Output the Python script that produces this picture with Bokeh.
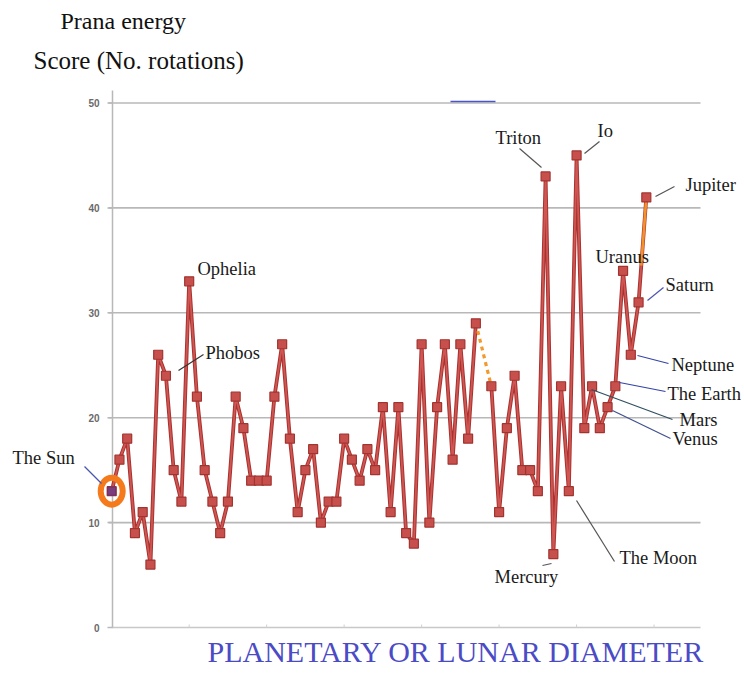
from bokeh.plotting import figure
from bokeh.models import Range1d, Label, ColumnDataSource
from bokeh.core.properties import value
from bokeh.embed import file_html
from bokeh.resources import INLINE

# ---------------- data ----------------
slots = list(range(70))
scores = [13, 16, 18, 9, 11, 6, 26, 24, 15, 12, 33, 22, 15, 12, 9, 12, 22, 19, 14, 14,
          14, 22, 27, 18, 11, 15, 17, 10, 12, 12, 18, 16, 14, 17, 15, 21, 11, 21, 9, 8,
          27, 10, 21, 27, 16, 27, 18, 29, float("nan"), 23, 11, 19, 24, 15, 15, 13, 43, 7, 23, 13,
          45, 19, 23, 19, 21, 23, 34, 26, 31, 41]
y_ticks = [0, 10, 20, 30, 40, 50]
y_tick_labels = ["0", "10", "20", "30", "40", "50"]
grid_levels = [10, 20, 30, 40, 50]
x_ticks = [10, 20, 30, 40, 50, 60, 70]
sun_index = 0
gap_from, gap_to = 47, 49          # dashed bridge over the missing slot
orange_from, orange_to = 68, 69    # Saturn -> Jupiter segment

# -------------- layout helpers --------------
W, H = 742, 671
PXU = 7.748          # px per slot
PYU = 10.49          # px per score unit
X_ORIGIN_PX = 111.2
Y_ORIGIN_PX = 627.0
X0 = -X_ORIGIN_PX / PXU
X1 = X0 + W / PXU
Y1 = Y_ORIGIN_PX / PYU
Y0 = Y1 - H / PYU

def px2x(px):
    return X0 + px / PXU

def py2y(py):
    return Y1 - py / PYU

p = figure(width=W, height=H, output_backend="svg", toolbar_location=None,
           x_range=Range1d(X0, X1), y_range=Range1d(Y0, Y1),
           x_axis_location=None, y_axis_location=None,
           min_border=0, min_border_left=0, min_border_right=0,
           min_border_top=0, min_border_bottom=0)
p.outline_line_color = None
p.background_fill_color = "white"
p.border_fill_color = "white"
p.xgrid.visible = False
p.ygrid.visible = False

# grid lines
gx0 = px2x(108)
p.segment(x0=[gx0] * len(grid_levels), y0=grid_levels, x1=[px2x(700)] * len(grid_levels), y1=grid_levels,
          line_color="#b8b8b8", line_width=1.6)
# axes lines, ticks and tick labels
p.segment(x0=[0], y0=[0], x1=[px2x(700)], y1=[0], line_color="#c8c8c8", line_width=1.5)
p.segment(x0=[px2x(112)], y0=[0], x1=[px2x(112)], y1=[py2y(90)], line_color="#b8b8b8", line_width=1.5)
p.segment(x0=[px2x(107)] * len(y_ticks), y0=y_ticks, x1=[px2x(112)] * len(y_ticks), y1=y_ticks,
          line_color="#b8b8b8", line_width=1.5)
p.segment(x0=x_ticks, y0=[0] * len(x_ticks), x1=x_ticks, y1=[py2y(624)] * len(x_ticks),
          line_color="#d0d0d0", line_width=1)
p.text(x=[px2x(99)] * len(y_ticks), y=y_ticks, text=y_tick_labels,
       text_font=value("Liberation Sans"), text_font_style="bold", text_font_size="10px",
       text_color="#6a6a6a", text_align="right", text_baseline="middle")

# little blue stroke at the top
p.segment(x0=[px2x(450)], y0=[py2y(101)], x1=[px2x(495)], y1=[py2y(101)],
          line_color="#4a55cc", line_width=1.5)

src = ColumnDataSource(dict(x=slots, y=scores))
p.line("x", "y", source=src, line_color="#a8322f", line_width=3.8)
p.line("x", "y", source=src, line_color="#cf5652", line_width=1.8)

# orange dashed bridge and orange last segment
p.line([slots[gap_from], slots[gap_to]], [scores[gap_from], scores[gap_to]],
       line_color="#f39a2e", line_width=3.2, line_dash="4 4")
p.line([slots[orange_from] + 0.35 * (slots[orange_to] - slots[orange_from]), slots[orange_to]],
       [scores[orange_from] + 0.35 * (scores[orange_to] - scores[orange_from]), scores[orange_to]],
       line_color="#f5912a", line_width=2.6)

p.scatter("x", "y", source=src, marker="square", size=9,
          fill_color="#c8504c", line_color="#a23430", line_width=1.2)

# The Sun marker and orange ring
p.scatter([slots[sun_index]], [scores[sun_index]], marker="square", size=8,
          fill_color="#7b3d7c", line_color="#6a3070")
p.ellipse(x=[slots[sun_index]], y=[scores[sun_index]], width=22, height=27,
          width_units="screen", height_units="screen",
          fill_alpha=0, line_color="#f57a1c", line_width=6)

# ---------------- labels ----------------
SERIF = "Liberation Serif"
labels = [
    ("The Sun", 12, 457), ("Ophelia", 197, 268), ("Phobos", 205, 352),
    ("Triton", 495, 137), ("Io", 597, 130), ("Jupiter", 685, 184),
    ("Uranus", 595, 256), ("Saturn", 665, 284), ("Neptune", 671, 364),
    ("The Earth", 667, 393), ("Mars", 679, 419), ("Venus", 672, 438),
    ("The Moon", 619, 557), ("Mercury", 494, 576),
]
for txt, lx, ly in labels:
    p.add_layout(Label(x=px2x(lx), y=py2y(ly), text=txt, text_font=SERIF,
                       text_font_size="18.5px", text_color="#1a1a1a", text_baseline="middle"))

leaders = [
    ((84, 466), (101, 483), "#4a55b0"),
    ((178, 370), (203, 354), "#333333"),
    ((519, 148), (541, 167), "#555555"),
    ((584, 153), (599, 141), "#555555"),
    ((655, 196), (674, 186), "#555555"),
    ((647, 300), (663, 287), "#4a55b0"),
    ((637, 355), (668, 363), "#3343a8"),
    ((619, 382), (665, 391), "#3343a8"),
    ((591, 389), (672, 419), "#2f5060"),
    ((612, 410), (670, 438), "#405090"),
    ((576, 500), (614, 561), "#555555"),
    ((542, 565), (551, 563), "#555555"),
]
p.segment(x0=[px2x(a[0][0]) for a in leaders], y0=[py2y(a[0][1]) for a in leaders],
          x1=[px2x(a[1][0]) for a in leaders], y1=[py2y(a[1][1]) for a in leaders],
          line_color=[a[2] for a in leaders], line_width=1.2)

p.add_layout(Label(x=px2x(60), y=py2y(20), text="Prana energy", text_font=SERIF,
                   text_font_size="24px", text_color="#111111", text_baseline="middle"))
p.add_layout(Label(x=px2x(33), y=py2y(60), text="Score (No. rotations)", text_font=SERIF,
                   text_font_size="25px", text_color="#111111", text_baseline="middle"))
p.add_layout(Label(x=px2x(207), y=py2y(651), text="PLANETARY OR LUNAR DIAMETER", text_font=SERIF,
                   text_font_size="30px", text_color="#4b4bc6", text_baseline="middle"))

open("out.html", "w").write(file_html(p, INLINE))
